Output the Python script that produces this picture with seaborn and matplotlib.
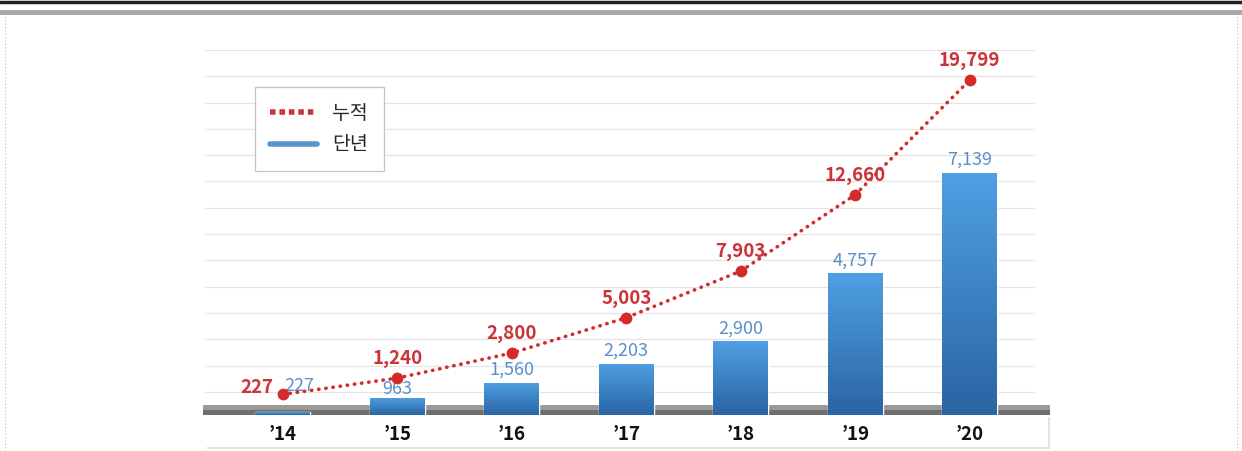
import numpy as np
import matplotlib
matplotlib.use("Agg")
import matplotlib.pyplot as plt
from matplotlib.lines import Line2D
from matplotlib.patches import Rectangle
import seaborn as sns

# data
years = ["\u201914", "\u201915", "\u201916", "\u201917", "\u201918", "\u201919", "\u201920"]
yearly = [227, 963, 1560, 2203, 2900, 4757, 7139]
cumulative = [227, 1240, 2800, 5003, 7903, 12660, 19799]

sns.set_theme(style="white")
plt.rcParams["font.family"] = ["Noto Sans CJK KR", "DejaVu Sans"]

W, H = 1242, 451
fig = plt.figure(figsize=(W / 100, H / 100), dpi=100)
fig.patch.set_facecolor("white")

# axes box in pixels: x 205..1035, y 50..415
ax = fig.add_axes([205 / W, (H - 415) / H, 830 / W, 365 / H])
ax.set_facecolor("none")

# frame decorations (top rules, dotted side borders)
fig.add_artist(Line2D([0, 1], [1 - 1.5 / H, 1 - 1.5 / H], color="#222222", lw=2.5))
fig.add_artist(Line2D([0, 1], [1 - 12 / H, 1 - 12 / H], color="#a8a8a8", lw=3.5))
for xp in (5, 1237):
    fig.add_artist(Line2D([xp / W, xp / W], [0, 1 - 14 / H], color="#bbbbbb",
                          lw=0.8, linestyle=(0, (1, 2))))

# floor band and label strip (behind the axes)
def fig_rect(x, y, w, h, **kw):
    r = Rectangle((x / W, (H - y - h) / H), w / W, h / H, transform=fig.transFigure,
                  edgecolor="none", zorder=-1, **kw)
    fig.add_artist(r)

fig_rect(203, 405, 847, 5, facecolor="#9a9a9a")
fig_rect(203, 410, 847, 5, facecolor="#6f6f6f")
fig_rect(207, 417, 843, 32, facecolor="#e2e2e2")
fig_rect(205, 415, 843, 32, facecolor="white")

# bar axis: the source graphic stretches tall bars, a power scale follows it
p = 1.32
ax.set_yscale("function", functions=(lambda v: np.sign(v) * np.abs(v) ** p,
                                     lambda v: np.sign(v) * np.abs(v) ** (1 / p)))
bar_top = 9750
line_lo, line_hi = -1058, 21670

sns.barplot(x=years, y=yearly, ax=ax, color="#3d86cf", width=0.48, zorder=3)
ax.set_xlim(-0.68, 6.57)
ax.set_ylim(0, bar_top)

# gridlines at even pixel spacing
fr = [1 - k * 26.3 / 365 for k in range(14)]
ax.set_yticks([bar_top * f ** (1 / p) for f in fr])
ax.yaxis.grid(True, color="#e4e4e4", lw=0.9)
ax.set_axisbelow(True)
ax.tick_params(axis="y", which="both", left=False, right=False, length=0, labelleft=False)
ax.tick_params(axis="x", bottom=False, length=0, pad=7, labelsize=13.5)
for t in ax.get_xticklabels():
    t.set_fontweight("bold")
    t.set_color("#111111")
ax.set_xlabel("")
ax.set_ylabel("")
for s in ax.spines.values():
    s.set_visible(False)

# vertical gradient on bars, drawn in axes coords
grad = np.linspace(0, 1, 256).reshape(-1, 1)
cmap = matplotlib.colors.LinearSegmentedColormap.from_list("bar", ["#2a64a3", "#4fa0e3"])
to_axes = ax.transAxes.inverted()
for b in list(ax.patches):
    (x0, y0), (x1, y1) = to_axes.transform(b.get_window_extent())
    im = ax.imshow(grad, cmap=cmap, extent=[x0, x1, y0, y1], origin="lower",
                   aspect="auto", transform=ax.transAxes, zorder=3)
    im.set_clip_path(b)
    b.set_facecolor("none")
ax.set_xlim(-0.68, 6.57)
ax.set_ylim(0, bar_top)

bar_offsets = {0: (12, 19), 1: (0, 6)}
for i, v in enumerate(yearly):
    ax.annotate(f"{v:,}", (i, v), xytext=bar_offsets.get(i, (0, 9.5)),
                textcoords="offset points", ha="center", va="center",
                fontsize=13, color="#5b8fc9", zorder=6)

# cumulative line on a secondary axis
ax2 = ax.twinx()
sns.lineplot(x=np.arange(len(cumulative)), y=cumulative, ax=ax2, color="#d42a2a",
             lw=2.6, linestyle=(0, (0.1, 1.9)), marker="o", markersize=8.5,
             markeredgewidth=0, zorder=5)
for l in ax2.lines:
    l.set_dash_capstyle("round")
ax2.set_ylim(line_lo, line_hi)
ax2.set_xlim(-0.68, 6.57)
ax2.set_yticks([])
ax2.tick_params(length=0)
ax2.set_ylabel("")
for s in ax2.spines.values():
    s.set_visible(False)

for i, v in enumerate(cumulative):
    off = (-19, 5) if i == 0 else (0, 14)
    ax2.annotate(f"{v:,}", (i, v), xytext=off, textcoords="offset points",
                 ha="center", va="center", fontsize=13.5, fontweight="bold",
                 color="#cc3338", zorder=6)

handles = [Line2D([], [], color="#c8363c", lw=4, linestyle=(0, (1, 0.7))),
           Line2D([], [], color="#5b95cc", lw=4)]
leg = ax2.legend(handles, ["누적", "단년"], loc="upper left", bbox_to_anchor=(0.048, 0.925),
                 fontsize=14, handlelength=2.4, handletextpad=0.8, labelspacing=0.55,
                 borderpad=0.8, fancybox=False, framealpha=1, edgecolor="#c4c4c4")
leg.get_frame().set_linewidth(0.9)

fig.savefig("out.png", dpi=100, facecolor="white")
